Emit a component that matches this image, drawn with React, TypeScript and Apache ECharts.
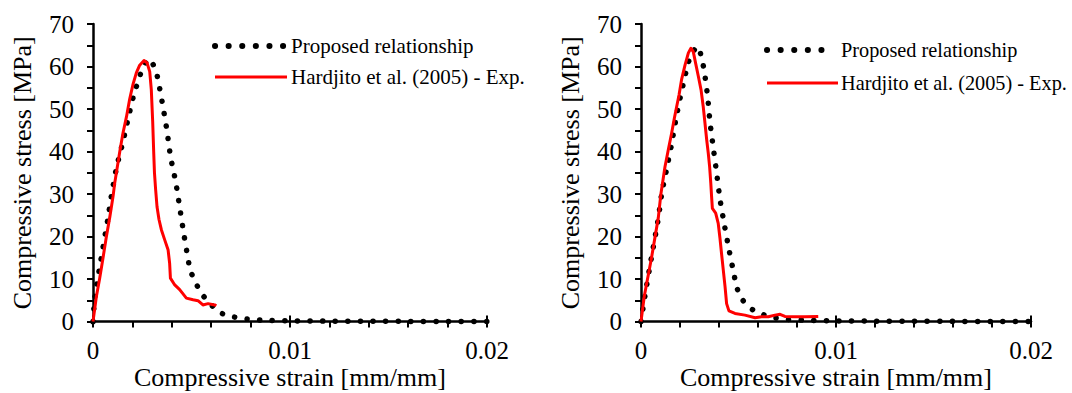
import React, { useEffect, useRef } from 'react';
import * as echarts from 'echarts';

// ---------- data (strain [mm/mm], stress [MPa]) ----------
const seriesNames = ['Proposed relationship', 'Hardjito et al. (2005) - Exp.'];
const xAxisTitle = 'Compressive strain [mm/mm]';
const yAxisTitle = 'Compressive stress [MPa]';
const strainMin = 0;
const strainMax = 0.02;
const strainStep = 0.01;
const stressMin = 0;
const stressMax = 70;
const stressStep = 10;

const leftModel: [number, number][] = [
  [0, 0], [0.00009, 5.5], [0.00043, 15.3], [0.00076, 24.3], [0.00093, 29.5], [0.00119, 36.1],
  [0.00152, 42.3], [0.00178, 47.7], [0.00208, 53.5], [0.00228, 56.4], [0.00249, 59.2],
  [0.00284, 61.8], [0.00317, 59.3], [0.00332, 56.4], [0.00355, 50.6], [0.00376, 44.7],
  [0.00394, 38.7], [0.0042, 32.8], [0.0044, 26.9], [0.0046, 20.9], [0.00482, 14.9],
  [0.00494, 12.0], [0.00521, 9.2], [0.00547, 6.8], [0.00589, 4.5], [0.0064, 2.2],
  [0.00702, 1.2], [0.00765, 0.7], [0.0083, 0.4], [0.009, 0.25], [0.01, 0.15], [0.012, 0.08],
  [0.014, 0.05], [0.016, 0.03], [0.018, 0.02], [0.02, 0.01],
];

const leftExp: [number, number][] = [
  [0, 0], [0.00017, 5.8], [0.00034, 10.2], [0.00051, 15], [0.00068, 20], [0.00085, 24.5],
  [0.00102, 29.5], [0.0011, 32.5], [0.00136, 40], [0.00152, 44.3], [0.0017, 48.2],
  [0.00186, 52.3], [0.00203, 55.8], [0.0022, 58.5], [0.00237, 60.3], [0.00259, 61.4],
  [0.00274, 60.9], [0.00288, 58.8], [0.00296, 54.5], [0.00303, 47], [0.00308, 40],
  [0.00312, 35], [0.00318, 31], [0.00325, 27], [0.00335, 24], [0.00347, 21.6], [0.00364, 19.2],
  [0.00381, 16.9], [0.00389, 13.7], [0.00393, 10.2], [0.00415, 8.6], [0.0044, 7.5],
  [0.00474, 5.5], [0.00508, 5.1], [0.00533, 4.9], [0.00558, 3.9], [0.00584, 4.2],
  [0.00618, 3.9], [0.00626, 3.7],
];

const rightModel: [number, number][] = [
  [0, 0], [0.0002, 6], [0.00054, 15.2], [0.00089, 24.3], [0.00106, 30], [0.00131, 35.8],
  [0.00157, 41.8], [0.00179, 47.6], [0.00205, 53.6], [0.0022, 56.5], [0.00234, 59.4],
  [0.00254, 62.4], [0.0029, 64.7], [0.00311, 62], [0.00325, 58.7], [0.00342, 52.8],
  [0.00354, 46.8], [0.00371, 40.8], [0.00388, 34.9], [0.00405, 28.8], [0.00427, 22.9],
  [0.00451, 17], [0.00477, 11.1], [0.0049, 8.2], [0.00516, 5.4], [0.00559, 3.2], [0.0061, 1.9],
  [0.0067, 1.0], [0.0075, 0.5], [0.0085, 0.3], [0.01, 0.15], [0.012, 0.08], [0.014, 0.05],
  [0.016, 0.03], [0.018, 0.02], [0.02, 0.01],
];

const rightExp: [number, number][] = [
  [0, 0], [0.00017, 6], [0.00054, 15], [0.00089, 24.5], [0.00102, 30], [0.00123, 36.4],
  [0.0014, 40.4], [0.00157, 44.3], [0.00171, 47.8], [0.00183, 50.6], [0.00195, 53.3],
  [0.00208, 56.9], [0.00226, 60.4], [0.00243, 63.2], [0.00256, 64.3], [0.00268, 63.5],
  [0.0028, 60.8], [0.00294, 57.7], [0.00308, 54.5], [0.00319, 50.6], [0.00328, 46.7],
  [0.00337, 42.7], [0.00345, 39.6], [0.00352, 36.4], [0.00358, 32.5], [0.00362, 29.4],
  [0.00366, 26.6], [0.00383, 25.5], [0.00396, 23.1], [0.00405, 19.6], [0.00413, 16],
  [0.00422, 12.1], [0.00431, 8.2], [0.00439, 4.2], [0.00451, 2.5], [0.00482, 1.9],
  [0.00533, 1.5], [0.00585, 0.9], [0.00618, 1.1], [0.00653, 1.1], [0.00687, 1.5],
  [0.00713, 1.7], [0.00738, 1.2], [0.0079, 1.1], [0.00841, 1.1], [0.00909, 1.2],
];

// ---------- styling ----------
const FONT = 'Liberation Serif';
const BLACK = '#000000';
const RED = '#ff0000';
const DOT_DASH = [0.1, 12.5];

function xAxesFor(gridIndex: number) {
  return [
    {
      type: 'value',
      gridIndex,
      min: strainMin,
      max: strainMax,
      interval: strainStep,
      position: 'bottom',
      axisLine: { show: true, onZero: false, lineStyle: { color: BLACK, width: 2.5 } },
      axisTick: { show: true, length: 6, lineStyle: { color: BLACK, width: 2 } },
      minorTick: { show: true, splitNumber: 5, length: 6, lineStyle: { color: BLACK, width: 2 } },
      splitLine: { show: false },
      minorSplitLine: { show: false },
      axisLabel: {
        margin: 16,
        fontSize: 25,
        color: BLACK,
        fontFamily: FONT,
        formatter: (v: number) => (v === 0 ? '0' : String(+v.toFixed(4))),
      },
      name: xAxisTitle,
      nameLocation: 'middle',
      nameGap: 43,
      nameMoveOverlap: false,
      nameTextStyle: { fontSize: 26, lineHeight: 26, color: BLACK, fontFamily: FONT },
    },
    {
      type: 'value',
      gridIndex,
      min: strainMin,
      max: strainMax,
      interval: strainStep,
      position: 'bottom',
      offset: 0,
      axisLine: { show: false, onZero: false },
      axisTick: { show: true, inside: true, length: 6, lineStyle: { color: BLACK, width: 2 } },
      axisLabel: { show: false },
      splitLine: { show: false },
    },
  ];
}

function yAxisFor(gridIndex: number) {
  return {
    type: 'value',
    gridIndex,
    min: stressMin,
    max: stressMax,
    interval: stressStep,
    axisLine: { show: true, onZero: false, lineStyle: { color: BLACK, width: 2.5 } },
    axisTick: { show: true, length: 6, lineStyle: { color: BLACK, width: 2 } },
    minorTick: { show: true, splitNumber: 2, length: 6, lineStyle: { color: BLACK, width: 2 } },
    splitLine: { show: false },
    minorSplitLine: { show: false },
    axisLabel: { margin: 19, fontSize: 25, color: BLACK, fontFamily: FONT },
    name: yAxisTitle,
    nameLocation: 'middle',
    nameGap: 58,
    nameMoveOverlap: false,
    nameTextStyle: { fontSize: 26, color: BLACK, fontFamily: FONT },
  };
}

function modelSeries(xi: number, yi: number, data: [number, number][]) {
  return {
    type: 'line',
    name: seriesNames[0],
    xAxisIndex: xi,
    yAxisIndex: yi,
    data,
    showSymbol: false,
    smooth: 0.25,
    clip: false,
    lineStyle: { color: BLACK, width: 5.5, type: DOT_DASH, cap: 'round' },
    z: 2,
  };
}

function expSeries(xi: number, yi: number, data: [number, number][]) {
  return {
    type: 'line',
    name: seriesNames[1],
    xAxisIndex: xi,
    yAxisIndex: yi,
    data,
    showSymbol: false,
    smooth: false,
    clip: false,
    lineStyle: { color: RED, width: 3, join: 'round' },
    z: 3,
  };
}

function legendGraphics(x0: number, x1: number, tx: number, y1: number, y2: number, fs: number) {
  return [
    {
      type: 'line',
      shape: { x1: x0, y1: y1, x2: x1, y2: y1 },
      style: { stroke: BLACK, lineWidth: 6, lineDash: [0.1, 13.5], lineCap: 'round' },
    },
    {
      type: 'text',
      x: tx,
      y: y1,
      style: { text: seriesNames[0], fontSize: fs, fontFamily: FONT, fill: BLACK, verticalAlign: 'middle', align: 'left' },
    },
    {
      type: 'line',
      shape: { x1: x0, y1: y2, x2: x1 + 3, y2: y2 },
      style: { stroke: RED, lineWidth: 3 },
    },
    {
      type: 'text',
      x: tx,
      y: y2,
      style: { text: seriesNames[1], fontSize: fs, fontFamily: FONT, fill: BLACK, verticalAlign: 'middle', align: 'left' },
    },
  ];
}

export default function App() {
  const ref = useRef<HTMLDivElement>(null);

  useEffect(() => {
    if (!ref.current) return;
    const chart = echarts.init(ref.current, undefined, { renderer: 'svg' });
    const option: any = {
      animation: false,
      backgroundColor: '#ffffff',
      textStyle: { fontFamily: FONT },
      grid: [
        { left: 93, top: 24, width: 394, height: 297.5, outerBoundsMode: 'none' },
        { left: 641, top: 24, width: 390, height: 297.5, outerBoundsMode: 'none' },
      ],
      xAxis: [...xAxesFor(0), ...xAxesFor(1)],
      yAxis: [yAxisFor(0), yAxisFor(1)],
      series: [
        modelSeries(0, 0, leftModel),
        expSeries(0, 0, leftExp),
        modelSeries(2, 1, rightModel),
        expSeries(2, 1, rightExp),
      ],
      graphic: [
        ...legendGraphics(215, 284, 291, 46, 77, 21),
        ...legendGraphics(767, 835, 841, 50, 83, 20.3),
      ],
    };
    chart.setOption(option);
    return () => {
      chart.dispose();
    };
  }, []);

  return (
    <div
      ref={ref}
      style={{ position: 'absolute', left: 0, top: 0, width: 1072, height: 393, background: '#fff' }}
    />
  );
}
